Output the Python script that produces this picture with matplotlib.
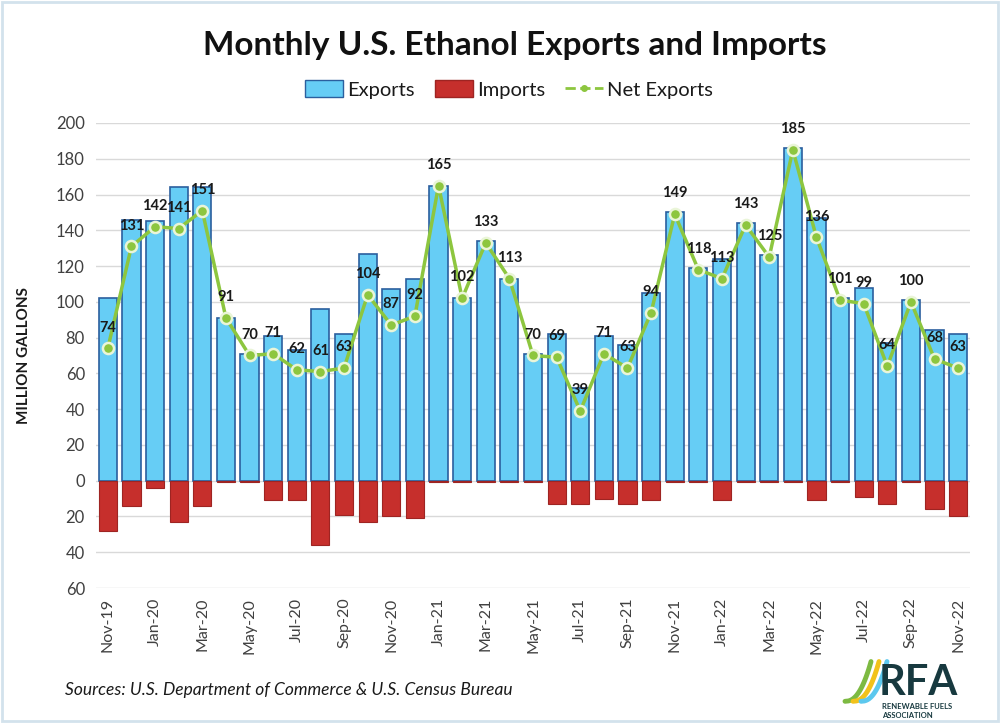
import numpy as np
import matplotlib
matplotlib.use("Agg")
import matplotlib.pyplot as plt
from matplotlib.patches import Patch, Rectangle
from matplotlib.lines import Line2D

plt.rcParams["font.family"] = ["Lato", "DejaVu Sans"]

months = [
    "Nov-19", "Dec-19", "Jan-20", "Feb-20", "Mar-20", "Apr-20", "May-20", "Jun-20",
    "Jul-20", "Aug-20", "Sep-20", "Oct-20", "Nov-20", "Dec-20", "Jan-21", "Feb-21",
    "Mar-21", "Apr-21", "May-21", "Jun-21", "Jul-21", "Aug-21", "Sep-21", "Oct-21",
    "Nov-21", "Dec-21", "Jan-22", "Feb-22", "Mar-22", "Apr-22", "May-22", "Jun-22",
    "Jul-22", "Aug-22", "Sep-22", "Oct-22", "Nov-22",
]
exports = [
    102, 146, 145, 164, 164, 91, 71, 81,
    73, 96, 82, 127, 107, 113, 165, 102,
    134, 113, 71, 82, 52, 81, 76, 105,
    150, 119, 124, 144, 126, 186, 147, 102,
    108, 77, 101, 84, 82,
]
imports = [
    28, 14, 4, 23, 14, 0.7, 0.7, 11,
    11, 36, 19, 23, 20, 21, 0.5, 0.5,
    1, 0.5, 0.7, 13, 13, 10, 13, 11,
    0.6, 1, 11, 0.6, 1, 0.8, 11, 0.7,
    9, 13, 0.7, 16, 20,
]
net_exports = [
    74, 131, 142, 141, 151, 91, 70, 71,
    62, 61, 63, 104, 87, 92, 165, 102,
    133, 113, 70, 69, 39, 71, 63, 94,
    149, 118, 113, 143, 125, 185, 136, 101,
    99, 64, 100, 68, 63,
]
y_ticks = [-60, -40, -20, 0, 20, 40, 60, 80, 100, 120, 140, 160, 180, 200]

fig = plt.figure(figsize=(10, 7.23), dpi=100)
ax = fig.add_axes([0.096, 0.1867, 0.874, 0.6432])

x = np.arange(len(months))
ax.bar(x, exports, width=0.77, color="#66CDF5", edgecolor="#2B5F9E", linewidth=1.2, zorder=2)
ax.bar(x, [-v for v in imports], width=0.77, color="#C62F2C", edgecolor="#9E2422",
       linewidth=0.8, zorder=2)
ax.plot(x, net_exports, color="#8DC63F", lw=2.5, marker="o", markersize=8,
        markerfacecolor="#8DC63F", markeredgecolor="#EAF5D8", markeredgewidth=1.8, zorder=4)

for xi, v in zip(x, net_exports):
    ax.annotate(str(v), (xi, v), xytext=(0, 15), textcoords="offset points",
                ha="center", va="center", fontsize=10.5, fontweight="bold",
                color="#1A1A1A", zorder=5)

ax.set_xlim(-0.5, len(months) - 0.5)
ax.set_ylim(-60, 200)
ax.set_yticks(y_ticks)
ax.set_yticklabels([str(abs(t)) for t in y_ticks], fontsize=12, color="#404040")
ax.set_xticks(x[::2])
ax.set_xticklabels(months[::2], rotation=90, fontsize=11.5, color="#404040")
ax.tick_params(length=0, pad=8)
ax.tick_params(axis="x", pad=7)
ax.grid(axis="y", color="#D9D9D9", lw=1, zorder=0)
ax.set_axisbelow(True)
for sp in ax.spines.values():
    sp.set_visible(False)

ax.set_ylabel("MILLION GALLONS", fontsize=11, fontweight="bold", color="#1A1A1A")
ax.yaxis.set_label_coords(-0.074, 0.5)

fig.text(0.515, 0.937, "Monthly U.S. Ethanol Exports and Imports", ha="center", va="center",
         fontsize=24, fontweight="bold", color="#111111")

handles = [
    Patch(facecolor="#66CDF5", edgecolor="#2B5F9E", label="Exports"),
    Patch(facecolor="#C62F2C", edgecolor="#9E2422", label="Imports"),
    Line2D([0], [0], color="#8DC63F", lw=2, ls="--", marker="o", markersize=4,
           markerfacecolor="#8DC63F", label="Net Exports"),
]
fig.legend(handles=handles, loc="center", bbox_to_anchor=(0.509, 0.876), ncol=3, frameon=False,
           fontsize=14.5, handlelength=1.9, handleheight=0.9, handletextpad=0.2,
           columnspacing=1.0, labelcolor="#1A1A1A")

fig.text(0.065, 0.045, "Sources: U.S. Department of Commerce & U.S. Census Bureau",
         fontsize=12.5, style="italic", color="#1A1A1A", ha="left", va="center")

# rough RFA logo
for dx, col in [(0.0, "#7DBA42"), (0.008, "#F2C21B"), (0.016, "#5CC8EE")]:
    t = np.linspace(0, 1, 30)
    lx = 0.845 + dx + 0.026 * t ** 0.6
    ly = 0.03 + 0.055 * t ** 1.4
    fig.add_artist(Line2D(lx, ly, color=col, lw=3.5, solid_capstyle="round"))
fig.text(0.918, 0.056, "RFA", fontsize=30, fontweight="bold", color="#17393F", ha="center",
         va="center")
fig.text(0.882, 0.017, "RENEWABLE FUELS\nASSOCIATION", fontsize=5.5, fontweight="bold",
         color="#17393F", ha="left", va="center", linespacing=1.3)

fig.add_artist(Rectangle((0.002, 0.003), 0.996, 0.994, transform=fig.transFigure, fill=False,
                         edgecolor="#D3E2EC", lw=2))

fig.savefig("out.png", dpi=100, facecolor="white")
